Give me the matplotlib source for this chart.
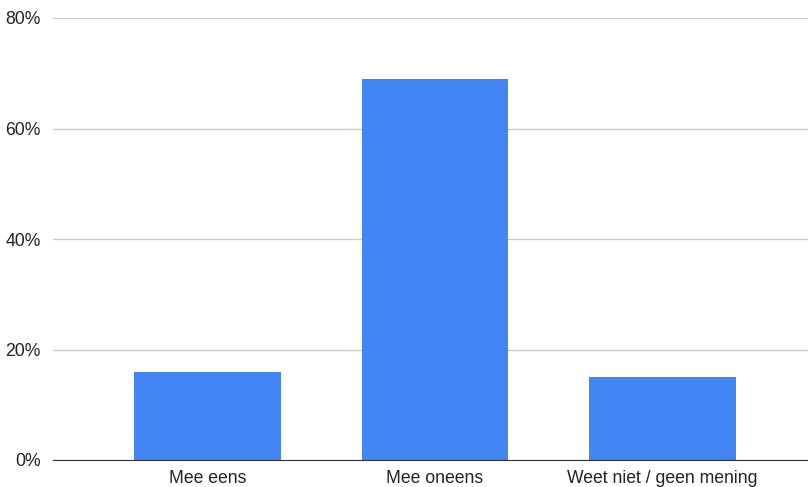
import numpy as np
import matplotlib.pyplot as plt

# Datos del gráfico
categorias = ['Mee eens', 'Mee oneens', 'Weet niet / geen mening']
porcentajes = [16, 69, 15]
ticks_y = [0, 20, 40, 60, 80]

plt.rcParams['font.family'] = ['Liberation Sans', 'DejaVu Sans']

W, H = 808, 487
fig = plt.figure(figsize=(W / 100, H / 100), dpi=100)
ax = fig.add_axes([53 / W, (H - 460) / H, (808 - 53) / W, (460 - 18) / H])

x = np.arange(len(categorias))
ax.bar(x, porcentajes, width=0.646, color='#4285f4', zorder=3)

ax.set_xlim((53 - 207.5) / 227.5, (808 - 207.5) / 227.5)
ax.set_ylim(0, 80)
ax.set_xticks(x)
ax.set_xticklabels(categorias)
ax.set_yticks(ticks_y)
ax.set_yticklabels([f'{v}%' for v in ticks_y])

ax.grid(axis='y', color='#cccccc', linewidth=1, zorder=0)
for lado in ['top', 'right', 'left']:
    ax.spines[lado].set_visible(False)
ax.spines['bottom'].set_color('#333333')
ax.spines['bottom'].set_zorder(4)
ax.tick_params(axis='both', length=0, labelsize=12.7, colors='#222222')
ax.tick_params(axis='y', pad=9)
ax.tick_params(axis='x', pad=7)

fig.savefig('out.png', dpi=100)
